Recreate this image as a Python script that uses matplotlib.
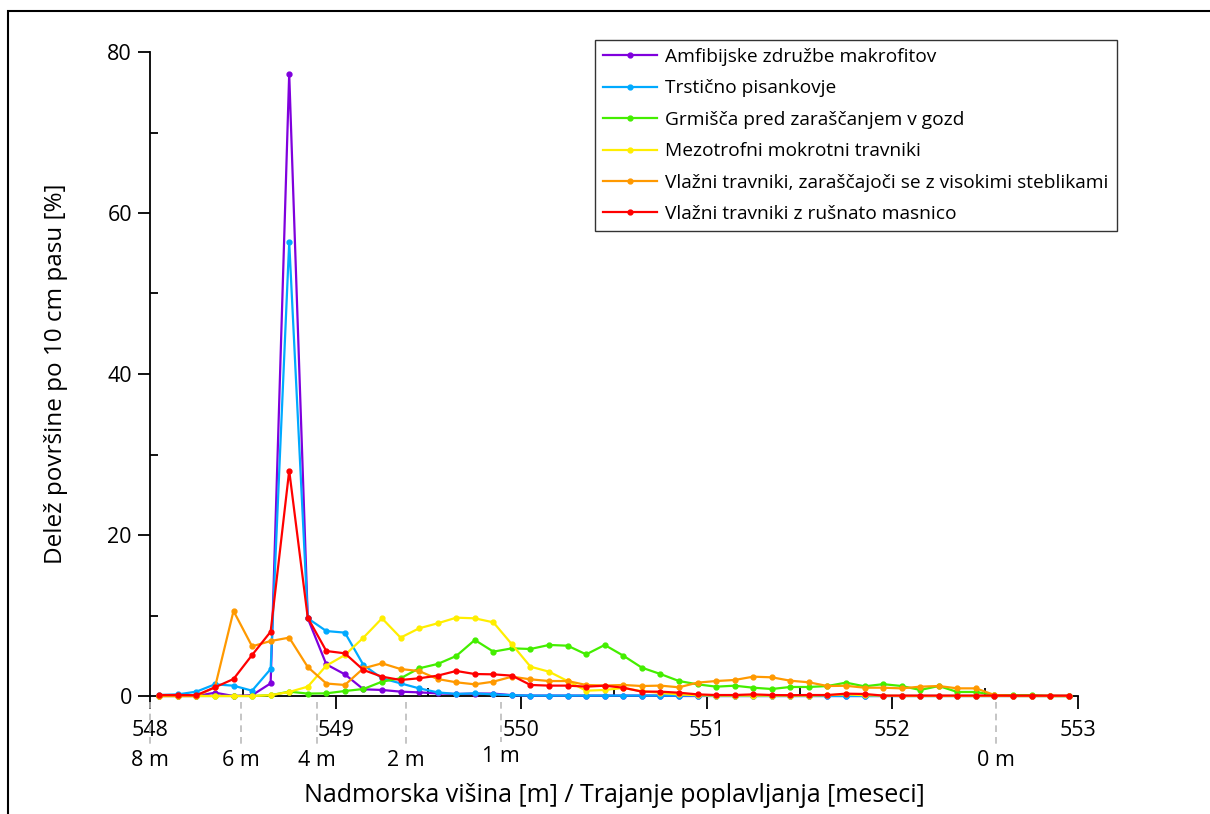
import matplotlib
matplotlib.use("Agg")
import matplotlib.pyplot as plt
import matplotlib.transforms as mtransforms
from matplotlib.patches import Rectangle
from matplotlib.ticker import MultipleLocator

plt.rcParams['font.family'] = ['Open Sans', 'DejaVu Sans']

# elevation (m a.s.l.), centres of 10 cm belts
elevation = [round(548.05 + 0.1 * i, 2) for i in range(50)]

amfibijske = [0, 0, 0, 0.41, 0, 0.1, 1.57, 77.3, 9.65, 3.93,
              2.69, 0.83, 0.75, 0.54, 0.45, 0.33, 0.25, 0.3, 0.3, 0.1,
              0.05, 0.05, 0.05, 0.05, 0.05, 0.05, 0.05, 0.05, 0, 0,
              0, 0, 0, 0, 0, 0, 0, 0, 0, 0,
              0, 0, 0, 0, 0, 0, 0, 0, 0, 0]
trsticno = [0.12, 0.2, 0.54, 1.45, 1.28, 0.66, 3.35, 56.4, 9.65, 8.07,
            7.87, 3.85, 2.2, 1.57, 0.95, 0.45, 0.25, 0.33, 0.2, 0.1,
            0.05, 0.05, 0.05, 0.05, 0.05, 0.05, 0.05, 0.05, 0.05, 0.05,
            0, 0, 0, 0, 0, 0, 0, 0, 0, 0,
            0, 0, 0, 0, 0, 0, 0, 0, 0, 0]
grmisca = [0, 0, 0, 0, 0, 0, 0.1, 0.54, 0.3, 0.33,
           0.62, 0.87, 1.78, 2.2, 3.44, 3.98, 4.97, 6.96, 5.51, 5.92,
           5.84, 6.34, 6.25, 5.17, 6.34, 5.01, 3.52, 2.73, 1.86, 1.45,
           1.16, 1.28, 1.03, 0.87, 1.12, 1.12, 1.24, 1.66, 1.2, 1.47,
           1.24, 0.75, 1.24, 0.5, 0.5, 0.1, 0.1, 0.1, 0, 0]
mezotrofni = [0, 0, 0, 0, 0, 0, 0.1, 0.5, 1.16, 3.77,
              5.09, 7.25, 9.65, 7.25, 8.41, 9.03, 9.73, 9.65, 9.15, 6.42,
              3.64, 3.02, 1.86, 0.66, 0.75, 1.0, 0.6, 0.4, 0.2, 0.1,
              0.05, 0.05, 0.05, 0.05, 0.05, 0.05, 0.1, 0.2, 0.1, 0.05,
              0, 0, 0, 0, 0, 0, 0, 0, 0, 0]
vlazni_steblike = [0, 0, 0, 1.08, 10.56, 6.17, 6.83, 7.25, 3.6, 1.55,
                   1.37, 3.44, 4.06, 3.35, 3.1, 2.11, 1.7, 1.45, 1.78, 2.4,
                   2.07, 1.86, 1.86, 1.37, 1.3, 1.37, 1.24, 1.29, 1.08, 1.66,
                   1.86, 1.99, 2.4, 2.32, 1.9, 1.7, 1.24, 1.27, 1.03, 1.03,
                   0.95, 1.16, 1.24, 0.95, 0.95, 0.12, 0, 0, 0, 0]
vlazni_masnica = [0.12, 0.12, 0.1, 1.08, 2.11, 5.09, 7.99, 28.0, 9.73, 5.59,
                  5.3, 3.23, 2.4, 1.99, 2.2, 2.53, 3.11, 2.73, 2.69, 2.53,
                  1.37, 1.29, 1.29, 1.16, 1.28, 1.03, 0.54, 0.54, 0.41, 0.2,
                  0.12, 0.12, 0.2, 0.12, 0.1, 0.12, 0.12, 0.29, 0.25, 0.05,
                  0.05, 0.05, 0.05, 0.05, 0.05, 0.05, 0.05, 0.05, 0.05, 0.05]

series_names = ["Amfibijske združbe makrofitov",
                "Trstično pisankovje",
                "Grmišča pred zaraščanjem v gozd",
                "Mezotrofni mokrotni travniki",
                "Vlažni travniki, zaraščajoči se z visokimi steblikami",
                "Vlažni travniki z rušnato masnico"]
series_values = [amfibijske, trsticno, grmisca, mezotrofni, vlazni_steblike, vlazni_masnica]
series_colors = ["#7f00dd", "#00aaff", "#44ee00", "#ffee00", "#ff9900", "#ff0000"]

x_ticks = [548, 549, 550, 551, 552, 553]
y_ticks = [0, 20, 40, 60, 80]

# flooding depth / duration labels on secondary scale
depth_labels = ["8 m", "6 m", "4 m", "2 m", "1 m", "0 m"]
depth_pos = [548.0, 548.49, 548.90, 549.38, 549.89, 552.56]

fig = plt.figure(figsize=(12.1, 8.14), dpi=100)
ax = fig.add_axes([150 / 1210, 1 - 696 / 814, (1078 - 150) / 1210, (696 - 52) / 814])

for name, vals, col in zip(series_names, series_values, series_colors):
    ax.plot(elevation, vals, color=col, lw=1.6, marker='o', ms=3.5,
            label=name, clip_on=False, zorder=3)

ax.set_xlim(548, 553)
ax.set_ylim(0, 80)
ax.set_xticks(x_ticks)
ax.set_yticks(y_ticks)
ax.xaxis.set_minor_locator(MultipleLocator(0.5))
ax.yaxis.set_minor_locator(MultipleLocator(10))
ax.tick_params(axis='both', which='major', direction='out', length=9, width=1.3,
               labelsize=15.5, colors='black', pad=4)
ax.tick_params(axis='x', which='major', pad=8)
ax.tick_params(axis='both', which='minor', direction='in', length=6, width=1.3)
for s in ['top', 'right']:
    ax.spines[s].set_visible(False)
for s in ['left', 'bottom']:
    ax.spines[s].set_linewidth(1.3)

ax.set_ylabel("Delež površine po 10 cm pasu [%]", fontsize=17.5)
ax.yaxis.set_label_coords(-0.088, 0.5)

# secondary depth labels
trans = mtransforms.blended_transform_factory(ax.transData, fig.transFigure)
for lab, pos in zip(depth_labels, depth_pos):
    top = 1 - 702 / 814
    bot = 1 - 748 / 814
    ty = 1 - 761 / 814
    if lab == "1 m":
        bot = 1 - 742 / 814
        ty = 1 - 757 / 814
    ax.plot([pos, pos], [top, bot], transform=trans, color='#bbbbbb', lw=1.2,
            ls=(0, (4, 3)), clip_on=False)
    ax.text(pos, ty, lab, transform=trans, ha='center', va='center', fontsize=15.5)

fig.text((150 + 1078) / 2 / 1210, 1 - 795 / 814,
         "Nadmorska višina [m] / Trajanje poplavljanja [meseci]",
         ha='center', va='center', fontsize=18)

leg = ax.legend(loc='upper left', bbox_to_anchor=(595 / 1210, 1 - 40 / 814),
                bbox_transform=fig.transFigure, fontsize=13.8, frameon=True,
                fancybox=False, edgecolor='black', handlelength=2.8,
                labelspacing=0.7, borderpad=0.42, handletextpad=0.45,
                borderaxespad=0)
leg.get_frame().set_linewidth(1.0)

# outer frame of the figure
fig.add_artist(Rectangle((8 / 1210, -0.1), 1.2, 1.1 - 11 / 814,
                         transform=fig.transFigure, fill=False,
                         edgecolor='black', lw=1.5, clip_on=False))

fig.savefig("out.png", dpi=100)
